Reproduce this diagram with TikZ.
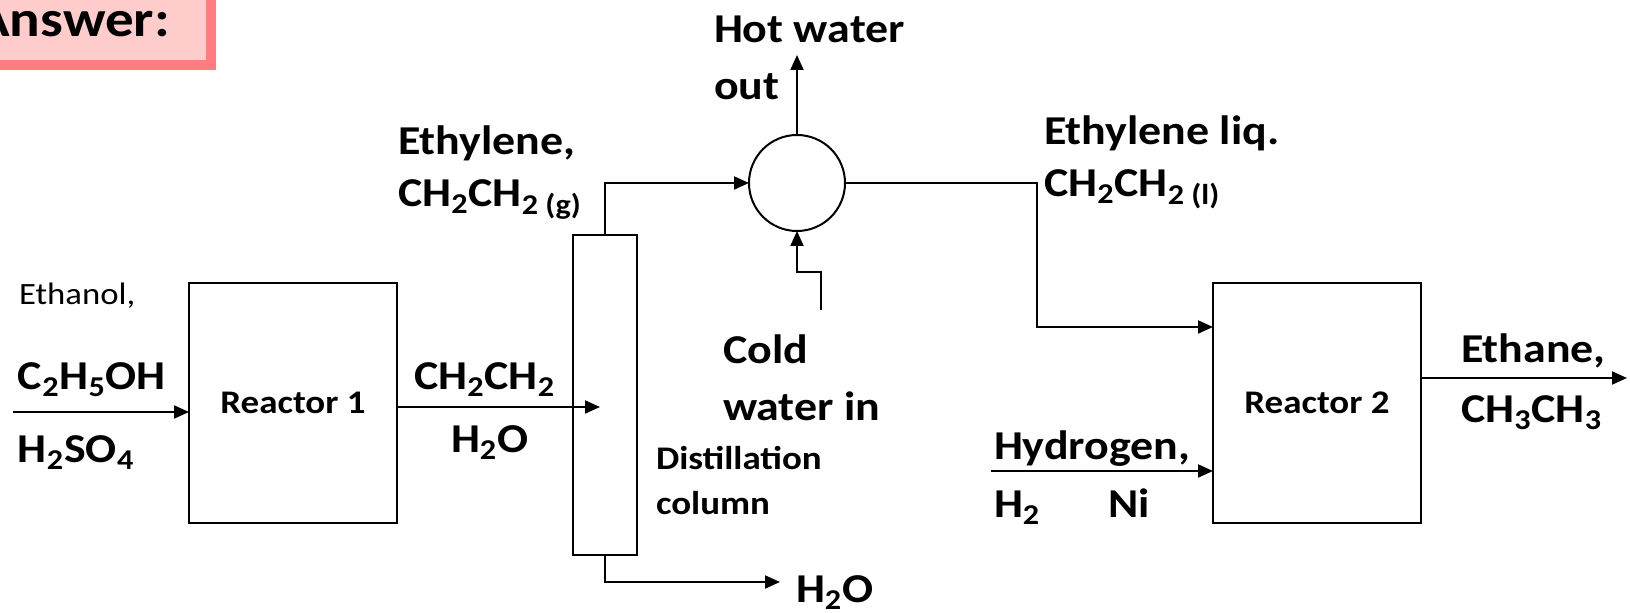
\documentclass[tikz,border=0pt]{standalone}
\usepackage{fontspec}
\setmainfont{Carlito}[FakeStretch=1.12]
\usetikzlibrary{arrows.meta}
\definecolor{answerfill}{HTML}{FFCCCC}
\definecolor{answerline}{HTML}{FF7C80}

\begin{document}
\begin{tikzpicture}[x=0.5pt,y=-0.5pt,line width=1pt,>={Triangle[length=7.5pt,width=6.5pt]},
  reactor/.style={draw,minimum width=104pt,minimum height=120pt,inner sep=0pt,outer sep=0pt,
    font=\fontsize{16.5}{18}\selectfont\bfseries},
  big/.style={anchor=base west,inner sep=0pt,font=\fontsize{20.5}{22}\selectfont\bfseries},
  small/.style={anchor=base west,inner sep=0pt,font=\fontsize{16.5}{18}\selectfont\bfseries}]
  \useasboundingbox (0,0) rectangle (1630,613);
  % answer tag, cut by the page edge
  \draw[answerline,fill=answerfill,line width=5pt] (-40,-40) rectangle (211,65);
  \node[anchor=base east,inner sep=0pt,font=\fontsize{25.5}{28}\selectfont\bfseries] (answer) at (171,37) {Answer:};
  % units
  \node[reactor] (r1) at (293,403) {Reactor 1};
  \node[draw,minimum width=32pt,minimum height=160pt,inner sep=0pt,outer sep=0pt] (col) at (605,395) {};
  \node[draw,circle,minimum size=48pt,inner sep=0pt,outer sep=0pt] (cond) at (797,183) {};
  \node[reactor] (r2) at (1317,403) {Reactor 2};
  % stream labels
  \node[anchor=base west,inner sep=0pt,font=\fontsize{15.5}{17}\selectfont] (ethanol) at (18,305) {Ethanol,};
  \node[big] (etoh) at (17,390) {C\textsubscript{2}H\textsubscript{5}OH};
  \node[big] (acid) at (17,463) {H\textsubscript{2}SO\textsubscript{4}};
  \node[big] (ethyl) at (397,155) {Ethylene,};
  \node[big] (ethylgas) at (397,207) {CH\textsubscript{2}CH\textsubscript{2 (g)}};
  \node[big] (mixtop) at (413,390) {CH\textsubscript{2}CH\textsubscript{2}};
  \node[big] (mixbot) at (450,453) {H\textsubscript{2}O};
  \node[big] (hot) at (713,43) {Hot water};
  \node[big] (hotb) at (713,100) {out};
  \node[big] (cold) at (722,364) {Cold};
  \node[big] (coldb) at (722,421) {water in};
  \node[small] (dist) at (655,470) {Distillation};
  \node[small] (distb) at (655,515) {column};
  \node[big] (water) at (795,603) {H\textsubscript{2}O};
  \node[big] (liq) at (1043,145) {Ethylene liq.};
  \node[big] (liqb) at (1043,197) {CH\textsubscript{2}CH\textsubscript{2 (l)}};
  \node[big] (hyd) at (993,460) {Hydrogen,};
  \node[big] (hydb) at (993,518) {H\textsubscript{2}};
  \node[big] (cat) at (1107,518) {Ni};
  \node[big] (ethane) at (1460,363) {Ethane,};
  \node[big] (ethaneb) at (1460,423) {CH\textsubscript{3}CH\textsubscript{3}};
  % streams
  \coordinate (feed) at (13,412);
  \draw[->] (feed) -- (feed -| r1.west);
  \draw[->] ([yshift=-2pt]r1.east) -- ++(203,0);
  \draw[->] (col.north) |- (cond.west);
  \coordinate (watout) at (780,582);
  \draw[->] (col.south) |- (watout);
  \coordinate (hotout) at (797,55);
  \draw[->] (cond.north) -- (hotout);
  \coordinate (coldin) at (821,310);
  \draw[->] (coldin) -- ++(0,-38) -| (cond.south);
  \coordinate (bend) at (1037,327);
  \draw[->] (cond.east) -| (bend) -- (bend -| r2.west);
  \coordinate (h2in) at (991,471);
  \draw[->] (h2in) -- (h2in -| r2.west);
  \coordinate (prod) at (1627,378);
  \draw[->] (r2.east |- prod) -- (prod);
\end{tikzpicture}
\end{document}
